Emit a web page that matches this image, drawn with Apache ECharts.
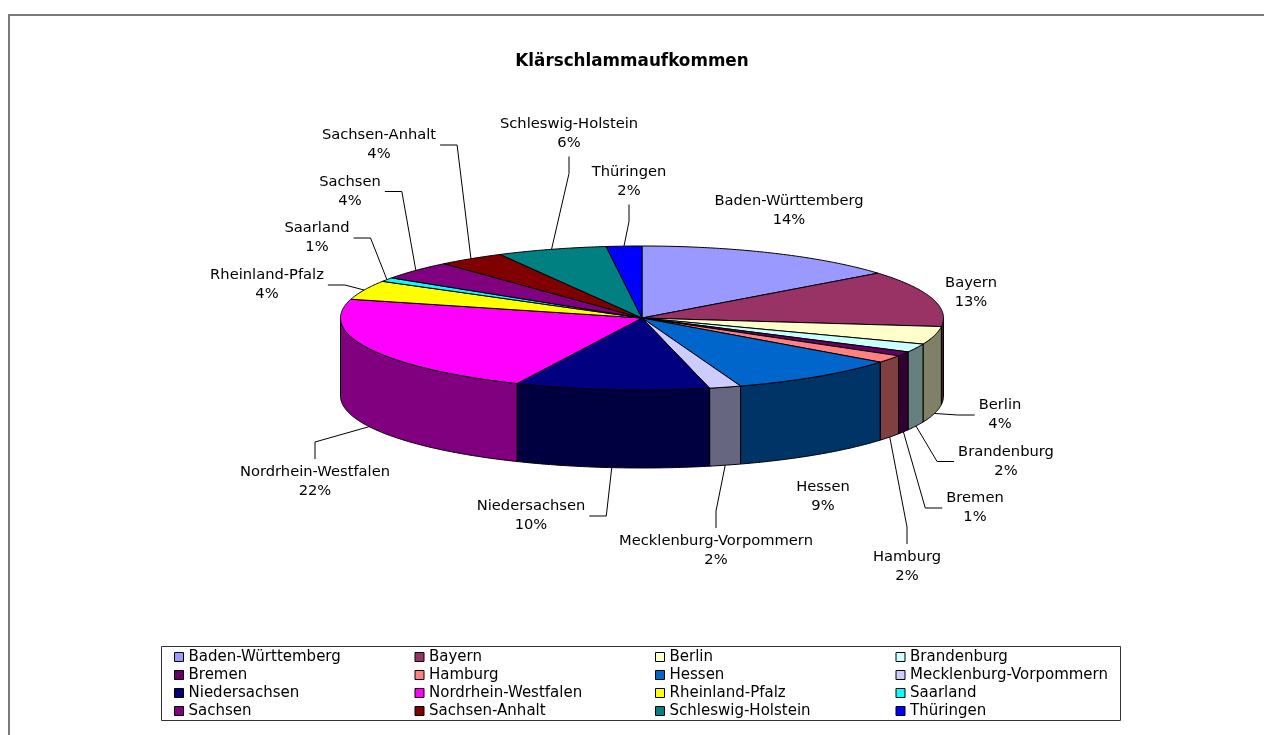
<!DOCTYPE html>
<html>
<head>
<meta charset="utf-8">
<script src="https://cdn.jsdelivr.net/npm/echarts@6/dist/echarts.min.js"></script>
<style>
    html, body {margin: 0; padding: 0; background: #fff;}
    #chart {width: 1264px; height: 735px;}
</style>
</head>
<body>
<div id="chart"></div>
<script>
// Klärschlammaufkommen nach Bundesland (Anteile in %)
var states = ['Baden-Württemberg', 'Bayern', 'Berlin', 'Brandenburg', 'Bremen', 'Hamburg', 'Hessen',
    'Mecklenburg-Vorpommern', 'Niedersachsen', 'Nordrhein-Westfalen', 'Rheinland-Pfalz', 'Saarland',
    'Sachsen', 'Sachsen-Anhalt', 'Schleswig-Holstein', 'Thüringen'];
var shares = [14.3, 12.6, 4.0, 1.9, 1.0, 1.7, 9.2, 1.7, 10.4, 22.4, 4.3, 0.9, 4.2, 3.6, 5.9, 1.9];

// Excel-Standardfarben
var palette = ['#9999FF', '#993366', '#FFFFCC', '#CCFFFF', '#660066', '#FF8080', '#0066CC', '#CCCCFF',
    '#000080', '#FF00FF', '#FFFF00', '#00FFFF', '#800080', '#800000', '#008080', '#0000FF'];

// Lage der Beschriftungen: [x, y, Richtung der Führungslinie]
var labelPlaces = [
    [789, 211, 'none'], [971, 292.5, 'none'], [1000, 415, 'left'], [1006, 461.5, 'left'],
    [975, 508, 'left'], [907, 567, 'up'], [823, 496.5, 'none'], [716, 551, 'up'],
    [531, 516, 'right'], [315, 482, 'up'], [267, 285, 'right'], [317, 238, 'right'],
    [350, 191.5, 'right'], [379, 145, 'right'], [569, 133.5, 'down'], [629, 181.5, 'down']
];

var pie = {cx: 642, cy: 318, rx: 301.5, ry: 72, depth: 78};
var labelFont = {size: 14.7, family: 'DejaVu Sans', lineHeight: 19};

var total = shares.reduce(function (a, b) { return a + b; }, 0);
var bounds = [];
var acc = 0;
shares.forEach(function (v) {
    bounds.push([acc / total, (acc + v) / total]);
    acc += v;
});

var measureCtx = document.createElement('canvas').getContext('2d');
measureCtx.font = labelFont.size + 'px "' + labelFont.family + '"';

function shade(hex) {
    var n = parseInt(hex.slice(1), 16);
    var r = Math.round((n >> 16 & 255) / 2), g = Math.round((n >> 8 & 255) / 2), b = Math.round((n & 255) / 2);
    return 'rgb(' + r + ',' + g + ',' + b + ')';
}

function pt(a, dy) {
    return [pie.cx + pie.rx * Math.sin(a), pie.cy - pie.ry * Math.cos(a) + (dy || 0)];
}

function arc(s, e, dy) {
    var n = Math.max(2, Math.ceil((e - s) / 0.01));
    var out = [];
    for (var i = 0; i <= n; i++) out.push(pt(s + (e - s) * i / n, dy));
    return out;
}

function renderSlice(params, api) {
    var a0 = api.value(0) * 2 * Math.PI;
    var a1 = api.value(1) * 2 * Math.PI;
    var idx = api.value(2);
    var color = palette[idx];
    var children = [];

    // Seitenwand (nur vordere Hälfte sichtbar)
    var ws = Math.max(a0, Math.PI / 2), we = Math.min(a1, Math.PI * 1.5);
    if (we > ws) {
        var wall = arc(ws, we).concat(arc(ws, we, pie.depth).reverse());
        children.push({type: 'polygon', z2: 5, shape: {points: wall},
            style: {fill: shade(color), stroke: '#000', lineWidth: 1}});
    }
    // Deckfläche
    children.push({type: 'polygon', z2: 10, shape: {points: [[pie.cx, pie.cy]].concat(arc(a0, a1))},
        style: {fill: color, stroke: '#000', lineWidth: 1, lineJoin: 'round'}});

    // Beschriftung
    var place = labelPlaces[idx];
    var pct = Math.round(shares[idx] / total * 100) + '%';
    var name = states[idx];
    children.push({type: 'text', z2: 30, style: {
        text: name + '\n' + pct, x: place[0], y: place[1], align: 'center', verticalAlign: 'middle',
        fontSize: labelFont.size, fontFamily: labelFont.family, lineHeight: labelFont.lineHeight, fill: '#000'
    }});

    if (place[2] !== 'none') {
        var mid = (a0 + a1) / 2;
        var anchor = Math.cos(mid) < 0 ? pt(mid, pie.depth) : pt(mid);
        var halfW = Math.max(measureCtx.measureText(name).width, measureCtx.measureText(pct).width) / 2;
        var halfH = labelFont.lineHeight;
        var start, bend;
        if (place[2] === 'left') {
            start = [place[0] - halfW - 4, place[1]];
            bend = [start[0] - 17, start[1]];
        } else if (place[2] === 'right') {
            start = [place[0] + halfW + 4, place[1]];
            bend = [start[0] + 17, start[1]];
        } else if (place[2] === 'up') {
            start = [place[0], place[1] - halfH - 4];
            bend = [start[0], start[1] - 17];
        } else {
            start = [place[0], place[1] + halfH + 4];
            bend = [start[0], start[1] + 17];
        }
        children.push({type: 'polyline', z2: 25, shape: {points: [start, bend, anchor]},
            style: {stroke: '#000', lineWidth: 1, fill: null}});
    }
    return {type: 'group', children: children};
}

var chart = echarts.init(document.getElementById('chart'));

var series = states.map(function (name, i) {
    return {
        type: 'custom',
        name: name,
        coordinateSystem: 'none',
        silent: true,
        itemStyle: {color: palette[i]},
        data: [[bounds[i][0], bounds[i][1], i]],
        renderItem: renderSlice
    };
});

chart.setOption({
    animation: false,
    color: palette,
    title: {
        text: 'Klärschlammaufkommen',
        left: 'center',
        top: 52,
        padding: 0,
        textStyle: {fontFamily: 'DejaVu Sans', fontWeight: 'bold', fontSize: 16.8, color: '#000', lineHeight: 20}
    },
    legend: {
        data: states,
        orient: 'horizontal',
        left: 174,
        top: 648,
        width: 965,
        padding: 0,
        itemGap: 0,
        itemWidth: 9,
        itemHeight: 9,
        icon: 'rect',
        selectedMode: false,
        itemStyle: {borderColor: '#000', borderWidth: 1},
        textStyle: {fontFamily: 'DejaVu Sans', fontSize: 15, color: '#000', width: 226, lineHeight: 18}
    },
    graphic: [
        {type: 'polyline', silent: true, shape: {points: [[9, 735], [9, 15], [1264, 15]]},
            style: {stroke: '#7a7a7a', lineWidth: 2, fill: null}},
        {type: 'rect', silent: true, shape: {x: 161.5, y: 646.5, width: 959, height: 74},
            style: {stroke: '#333', lineWidth: 1, fill: null}}
    ],
    series: series
});
</script>
</body>
</html>
